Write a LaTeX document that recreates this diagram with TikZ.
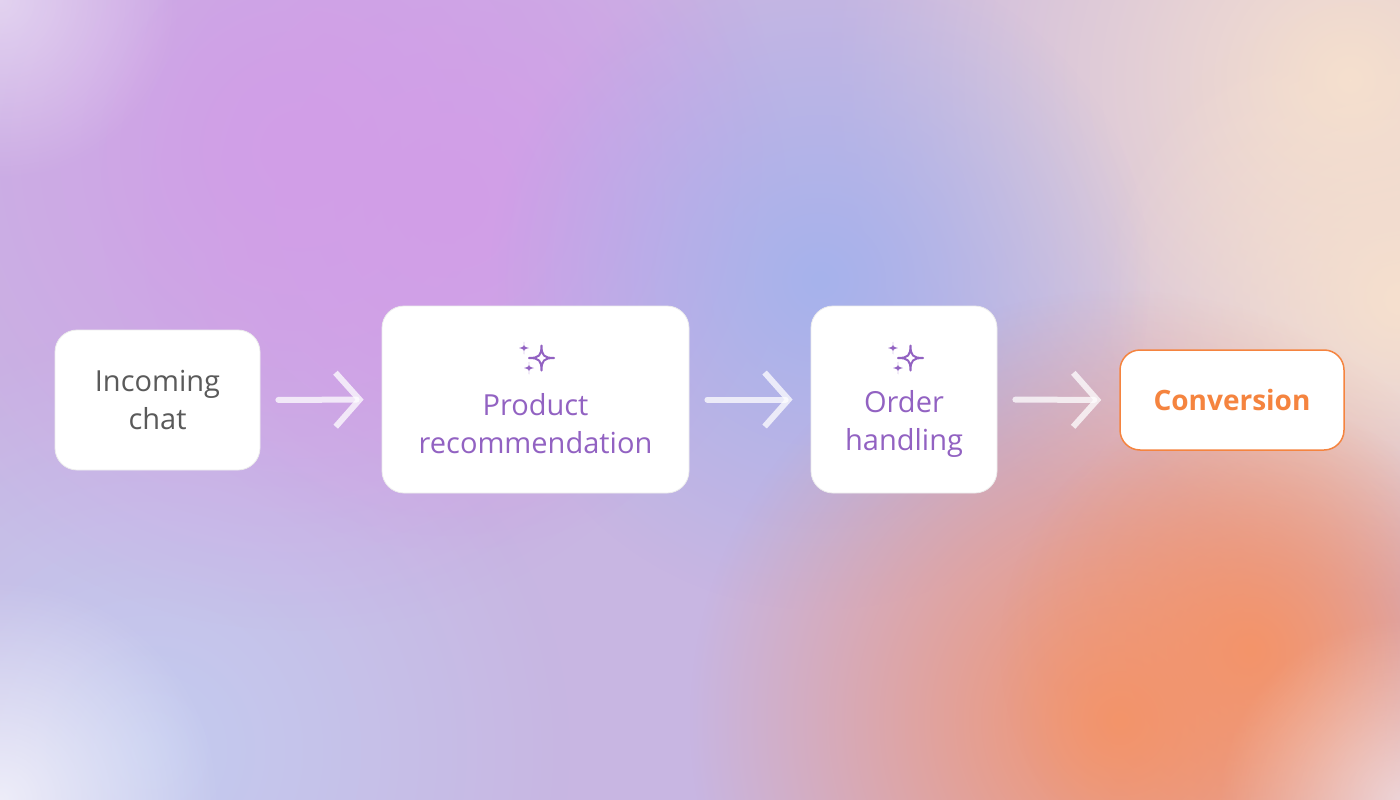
\documentclass[tikz,border=0pt]{standalone}
\usepackage{fontspec}
\setmainfont{Open Sans}
\usetikzlibrary{arrows.meta,fadings}
\tikzfading[name=softblob, inner color=transparent!0, outer color=transparent!100]
\definecolor{base}{HTML}{C8B6E2}
\definecolor{purp}{HTML}{D29EE8}
\definecolor{blu}{HTML}{A6B2EC}
\definecolor{oran}{HTML}{F4946A}
\definecolor{peach}{HTML}{F6E0CE}
\definecolor{lbl}{HTML}{C4CCF0}
\definecolor{txtp}{HTML}{9262C2}
\definecolor{txtg}{HTML}{5A5A5A}
\definecolor{orng}{HTML}{F5843F}
\tikzset{
 box/.style={draw=white!85!gray,line width=0.8pt,fill=white,rounded corners=22pt,align=center,font=\fontsize{29}{38}\selectfont},
 lbltext/.style={align=center,font=\fontsize{29}{38}\selectfont,text=txtp},
 flow/.style={draw=white,draw opacity=0.75,line width=6pt,line cap=round,line join=round,-{Straight Barb[length=24pt,width=54pt,line width=6pt]},shorten <=18pt,shorten >=18pt},
 blob/.style={path fading=softblob}
}
\newcommand{\sparkle}[1]{%
 \begin{scope}[shift={#1},scale=1.25]
 \draw[txtp,line width=2pt,line join=round] (14,-10) .. controls (14,-2) and (16,0) .. (24,0) .. controls (16,0) and (14,2) .. (14,10) .. controls (14,2) and (12,0) .. (4,0) .. controls (12,0) and (14,-2) .. (14,-10) -- cycle;
 \fill[txtp] (0,-13) .. controls (0,-9) .. (4,-8) .. controls (0,-7) .. (0,-3) .. controls (0,-7) .. (-4,-8) .. controls (0,-9) .. (0,-13);
 \fill[txtp] (4,3) .. controls (4,7) .. (8,8) .. controls (4,9) .. (4,13) .. controls (4,9) .. (0,8) .. controls (4,7) .. (4,3);
 \end{scope}}
\begin{document}
\begin{tikzpicture}[x=1pt,y=-1pt]
\fill[base] (0,0) rectangle (1400,800);
\clip (0,0) rectangle (1400,800);
\fill[lbl,blob] (150,750) circle (420);
\fill[purp,blob] (300,150) circle (480);
\fill[purp,blob] (450,200) circle (350);
\fill[peach,blob] (1350,80) circle (520);
\fill[peach,blob] (1400,300) circle (300);
\fill[blu,blob] (820,280) circle (330);
\fill[oran,blob] (1120,720) circle (430);
\fill[oran,blob] (1250,650) circle (250);
\fill[white,blob,fill opacity=0.45] (0,0) circle (180);
\fill[white,blob,fill opacity=0.7] (0,800) circle (220);
\fill[white,blob,fill opacity=0.5] (1400,800) circle (180);
\node[box,text=txtg,minimum width=205pt,minimum height=140pt] (a) at (157.5,400) {Incoming\\chat};
\node[box,minimum width=307pt,minimum height=187pt] (b) at (535.5,399.5) {};
\node[box,minimum width=186pt,minimum height=187pt] (c) at (904,399.5) {};
\node[lbltext] (bt) at (535.5,424) {Product\\recommendation};
\node[lbltext] (ct) at (904,424) {Order\\handling};
\node[box,draw=orng,line width=1.5pt,text=orng,font=\fontsize{28}{38}\selectfont\bfseries,minimum width=224pt,minimum height=100pt,rounded corners=20pt] (d) at (1232,400) {Conversion};
\sparkle{(524,358)}
\sparkle{(893,358)}
\draw[flow] (a.east) -- (b.west);
\draw[flow] (b.east) -- (c.west);
\draw[flow] (c.east) -- (d.west);
\end{tikzpicture}
\end{document}
